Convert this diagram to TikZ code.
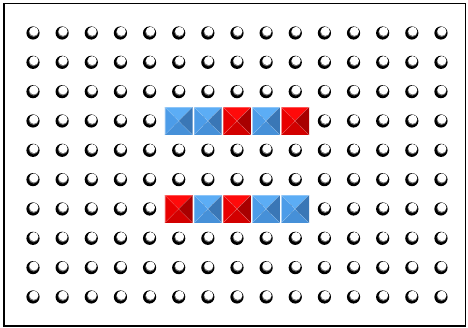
\documentclass[tikz,border=0pt]{standalone}
\definecolor{btop}{HTML}{5CADF5}
\definecolor{bleft}{HTML}{4C9CE8}
\definecolor{bbot}{HTML}{4690D8}
\definecolor{bright}{HTML}{3A77B6}
\definecolor{rtop}{HTML}{FF0A0A}
\definecolor{rleft}{HTML}{E80000}
\definecolor{rbot}{HTML}{D20000}
\definecolor{rright}{HTML}{A80000}
\tikzset{
  frame/.style={draw=black, line width=1.6pt},
  holering/.style={fill=black},
  holeface/.style={fill=white},
}
% #1 x, #2 y, #3 colour prefix (b or r)
\newcommand\pyrblock[3]{%
  \begin{scope}[shift={(#1,#2)}]
    \fill[#3top] (-13.8,-13.8) -- (13.8,-13.8) -- (0,0) -- cycle;
    \fill[#3right] (13.8,-13.8) -- (13.8,13.8) -- (0,0) -- cycle;
    \fill[#3bot] (13.8,13.8) -- (-13.8,13.8) -- (0,0) -- cycle;
    \fill[#3left] (-13.8,13.8) -- (-13.8,-13.8) -- (0,0) -- cycle;
    \draw[white, opacity=0.25, line width=0.4pt] (-13.8,-13.8) -- (13.8,13.8) (13.8,-13.8) -- (-13.8,13.8);
    \draw[white, opacity=0.3, line width=0.5pt] (-13.5,13.5) -- (-13.5,-13.5) -- (13.5,-13.5);
  \end{scope}}
\begin{document}
\begin{tikzpicture}[x=1pt,y=-1pt]
\useasboundingbox (0,0) rectangle (468,328);
\fill[white] (0,0) rectangle (468,328);
\draw[frame] (4,3.5) rectangle (465.5,326);
\foreach \i in {0,...,14}{
  \foreach \j in {0,...,9}{
    \pgfmathsetmacro\hx{33+\i*29.14}
    \pgfmathsetmacro\hy{33+\j*29.33}
    \fill[holering] (\hx,\hy) circle (6.6);
    \fill[black!55] (\hx+0.6,\hy-0.9) circle (4.9);
    \fill[holeface] (\hx+0.9,\hy-1.7) circle (4.5);
  }
}
\pyrblock{178.7}{121}{b}
\pyrblock{207.8}{121}{b}
\pyrblock{237.0}{121}{r}
\pyrblock{266.1}{121}{b}
\pyrblock{295.2}{121}{r}
\pyrblock{178.7}{209}{r}
\pyrblock{207.8}{209}{b}
\pyrblock{237.0}{209}{r}
\pyrblock{266.1}{209}{b}
\pyrblock{295.2}{209}{b}
\end{tikzpicture}
\end{document}
